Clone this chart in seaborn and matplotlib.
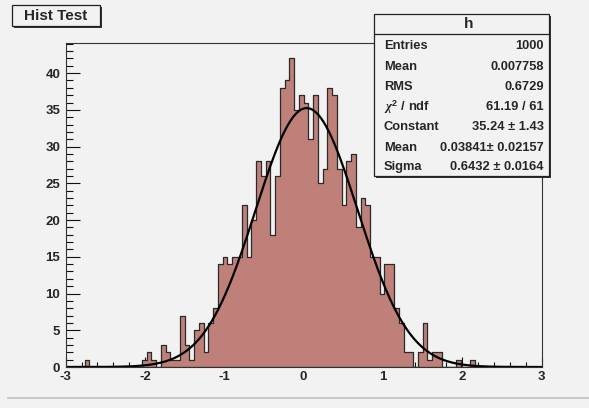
import numpy as np
import pandas as pd
import matplotlib
matplotlib.use("Agg")
import matplotlib.pyplot as plt
from matplotlib.patches import Rectangle
from matplotlib.lines import Line2D
from matplotlib.ticker import MultipleLocator
import seaborn as sns

# histogram "h": 100 bins on [-3, 3]
x_lo, x_hi, n_bins = -3.0, 3.0, 100
counts = [0, 0, 0, 0, 1, 0, 0, 0, 0, 0, 0, 0, 0, 0, 0, 0,
          1, 2, 1, 0, 3, 2, 1, 1, 7, 3, 1, 5, 6, 2, 6, 8,
          14, 15, 14, 15, 15, 22, 15, 20, 28, 26, 28, 18, 26, 38, 39, 42,
          35, 37, 36, 31, 37, 25, 27, 38, 37, 27, 22, 28, 29, 19, 23, 22,
          15, 15, 10, 14, 14, 8, 6, 2, 2, 0, 2, 6, 1, 2, 2, 0,
          0, 0, 1, 0, 0, 1, 0, 0, 0, 0, 0, 0, 0, 0, 0, 0, 0, 0, 0, 0]

# gaus fit parameters (from the stats box)
fit_const, fit_mean, fit_sigma = 35.24, 0.03841, 0.6432

stat_labels = ["Entries", "Mean", "RMS", r"$\chi^{2}$ / ndf", "Constant", "Mean", "Sigma"]
stat_values = ["1000", "0.007758", "0.6729", "61.19 / 61",
               "35.24 \u00b1 1.43", "0.03841\u00b1 0.02157", "0.6432 \u00b1 0.0164"]

W, H = 589, 408
BG = "#f2f2f2"


def fx(px):
    return px / W


def fy(py):
    return 1 - py / H


def box(fig, x0, y0, x1, y1, shadow=2):
    fig.add_artist(Rectangle((fx(x0 + shadow), fy(y1 + shadow)), fx(x1 - x0), (y1 - y0) / H,
                             facecolor="#333333", edgecolor="none", zorder=5))
    fig.add_artist(Rectangle((fx(x0), fy(y1)), fx(x1 - x0), (y1 - y0) / H,
                             facecolor=BG, edgecolor="#222222", linewidth=0.9, zorder=6))


sns.set_theme(style="ticks")
plt.rcParams["font.family"] = ["Liberation Sans", "DejaVu Sans"]
plt.rcParams["font.weight"] = "bold"
plt.rcParams["axes.unicode_minus"] = False
plt.rcParams["mathtext.fontset"] = "custom"
plt.rcParams["mathtext.it"] = "Liberation Serif:italic"
plt.rcParams["mathtext.rm"] = "Liberation Sans:bold"

bin_w = (x_hi - x_lo) / n_bins
centers = x_lo + bin_w * (np.arange(n_bins) + 0.5)
df = pd.DataFrame({"x": centers, "n": counts})

fig = plt.figure(figsize=(W / 100, H / 100), dpi=100, facecolor=BG)
ax = fig.add_axes([fx(65.7), fy(367), fx(541.5 - 65.7), (367 - 43) / H])
ax.set_facecolor(BG)

sns.histplot(data=df, x="x", weights="n", bins=n_bins, binrange=(x_lo, x_hi),
             element="step", fill=True,
             facecolor="#c0807a", edgecolor="#2a2a2a", linewidth=0.9, ax=ax)

xs = np.linspace(x_lo, x_hi, 600)
fit_df = pd.DataFrame({"x": xs, "y": fit_const * np.exp(-0.5 * ((xs - fit_mean) / fit_sigma) ** 2)})
sns.lineplot(data=fit_df, x="x", y="y", color="black", linewidth=1.6,
             estimator=None, sort=False, ax=ax)

ax.set_xlim(x_lo, x_hi)
ax.set_ylim(0, 44.1)
ax.set_xlabel("")
ax.set_ylabel("")
ax.xaxis.set_major_locator(MultipleLocator(1))
ax.xaxis.set_minor_locator(MultipleLocator(0.2))
ax.yaxis.set_major_locator(MultipleLocator(5))
ax.yaxis.set_minor_locator(MultipleLocator(1))
ax.tick_params(axis="x", which="major", direction="in", length=7, width=0.8, pad=3,
               labelsize=9.5, color="#111111")
ax.tick_params(axis="x", which="minor", direction="in", length=3.5, width=0.8, color="#111111")
ax.tick_params(axis="y", which="major", direction="in", length=10, width=0.8, pad=4,
               labelsize=9.5, color="#111111")
ax.tick_params(axis="y", which="minor", direction="in", length=5, width=0.8, color="#111111")
for lab in ax.get_xticklabels() + ax.get_yticklabels():
    lab.set_fontweight("bold")
for side in ["top", "right", "left", "bottom"]:
    ax.spines[side].set_linewidth(0.8)
    ax.spines[side].set_color("#333333")

# title box
box(fig, 12, 5, 100, 26)
fig.text(fx(56), fy(15.5), "Hist Test", ha="center", va="center", fontsize=11,
         fontweight="bold", zorder=7)

# stats box
box(fig, 374, 14, 549, 176)
fig.add_artist(Line2D([fx(374), fx(549)], [fy(34), fy(34)], color="#222222", lw=0.9, zorder=7))
fig.text(fx(469), fy(24.5), "h", ha="center", va="center", fontsize=11, fontweight="bold", zorder=7)
row_y = [46, 67, 87, 107, 127, 148, 167]
for lab, val, ry in zip(stat_labels, stat_values, row_y):
    fig.text(fx(384), fy(ry), lab, ha="left", va="center", fontsize=9.3, fontweight="bold", zorder=7)
    fig.text(fx(544), fy(ry), val, ha="right", va="center", fontsize=9.3, fontweight="bold", zorder=7)

# canvas bottom edge
fig.add_artist(Line2D([fx(8), fx(589)], [fy(398), fy(398)], color="#c8c8c8", lw=1.5, zorder=7))

fig.savefig("out.png", dpi=100, facecolor=BG)
